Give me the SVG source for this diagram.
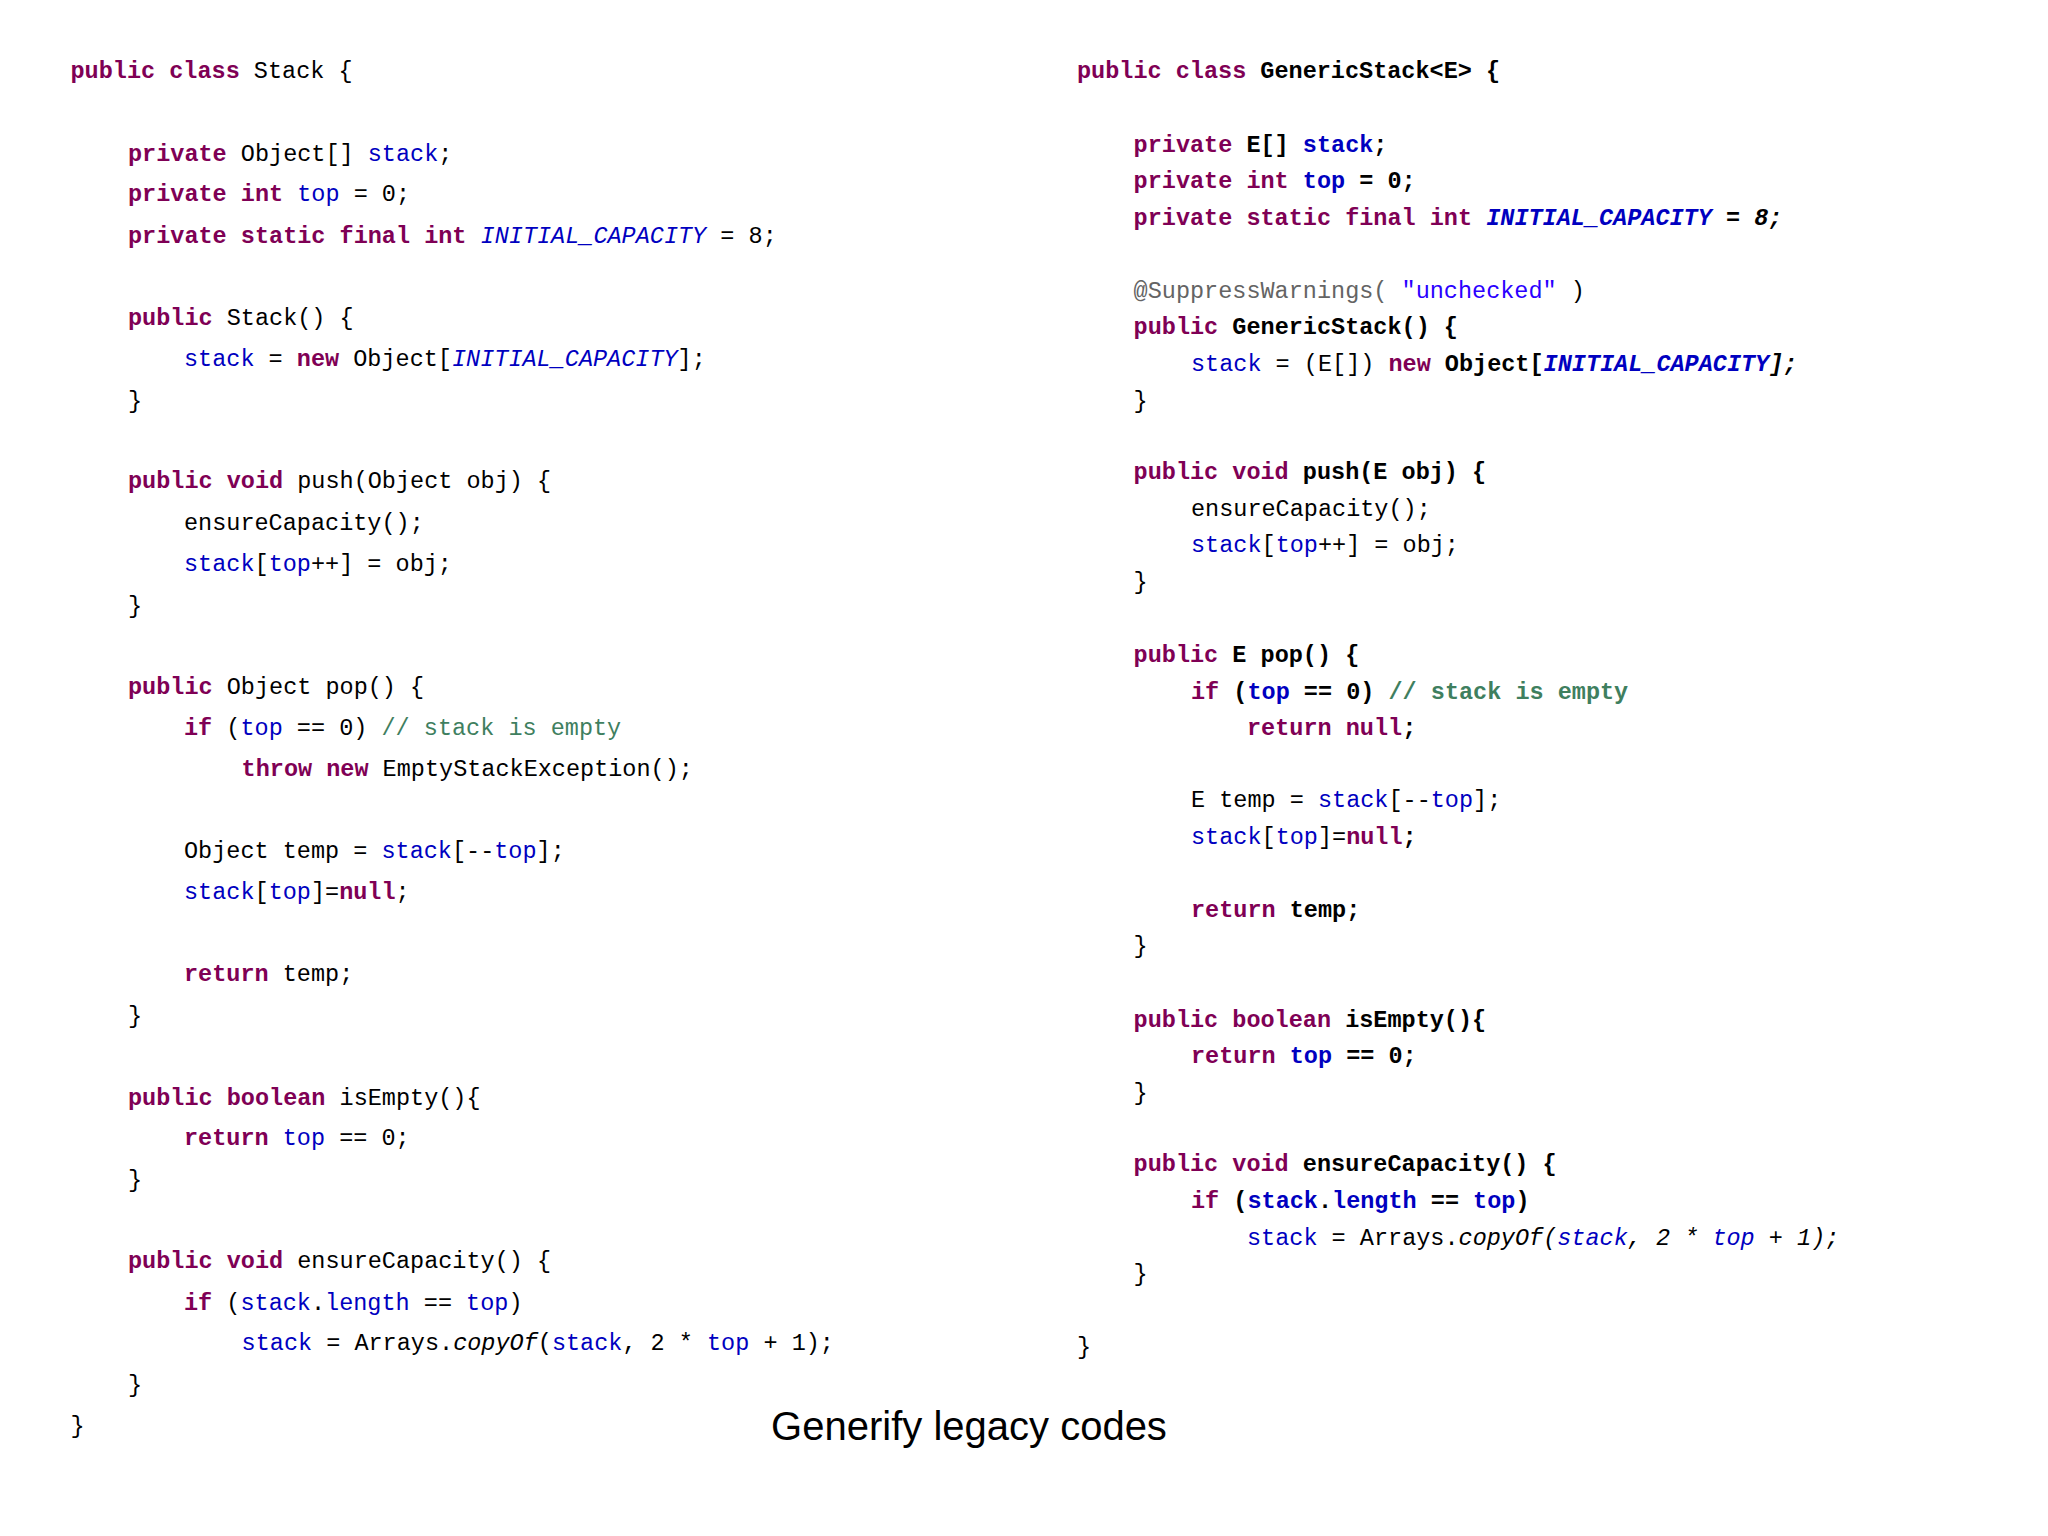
<svg xmlns="http://www.w3.org/2000/svg" width="2048" height="1536" viewBox="0 0 2048 1536">
<style>
text{font-family:"Liberation Mono","DejaVu Sans Mono",monospace;font-size:23.5px;fill:#000;white-space:pre}
.k{fill:#7F0055;font-weight:bold}
.f{fill:#0000C0}
.i{font-style:italic}
.c{fill:#3F7F5F}
.a{fill:#646464}
.s{fill:#2A00FF}
.b{font-weight:bold}
.t{font-family:"Liberation Sans",Arial,sans-serif;font-size:40px}
</style>
<rect width="2048" height="1536" fill="#fff"/>
<g id="legacy">
<text x="70.5" y="78.4"><tspan class="k">public class</tspan> Stack {</text>
<text x="128" y="160.6"><tspan class="k">private</tspan> Object[] <tspan class="f">stack</tspan>;</text>
<text x="128" y="201"><tspan class="k">private int</tspan> <tspan class="f">top</tspan> = 0;</text>
<text x="128" y="243"><tspan class="k">private static final int</tspan> <tspan class="f i">INITIAL_CAPACITY</tspan> = 8;</text>
<text x="128" y="325"><tspan class="k">public</tspan> Stack() {</text>
<text x="184" y="365.7"><tspan class="f">stack</tspan> = <tspan class="k">new</tspan> Object[<tspan class="f i">INITIAL_CAPACITY</tspan>];</text>
<text x="128" y="407.5">}</text>
<text x="128" y="488.4"><tspan class="k">public void</tspan> push(Object obj) {</text>
<text x="184" y="530">ensureCapacity();</text>
<text x="184" y="570.7"><tspan class="f">stack</tspan>[<tspan class="f">top</tspan>++] = obj;</text>
<text x="128" y="612.5">}</text>
<text x="128" y="693.5"><tspan class="k">public</tspan> Object pop() {</text>
<text x="184" y="735.3"><tspan class="k">if</tspan> (<tspan class="f">top</tspan> == 0) <tspan class="c">// stack is empty</tspan></text>
<text x="241.6" y="775.9"><tspan class="k">throw new</tspan> EmptyStackException();</text>
<text x="184" y="858">Object temp = <tspan class="f">stack</tspan>[--<tspan class="f">top</tspan>];</text>
<text x="184" y="898.5"><tspan class="f">stack</tspan>[<tspan class="f">top</tspan>]=<tspan class="k">null</tspan>;</text>
<text x="184" y="980.8"><tspan class="k">return</tspan> temp;</text>
<text x="128" y="1022.6">}</text>
<text x="128" y="1104.9"><tspan class="k">public boolean</tspan> isEmpty(){</text>
<text x="184" y="1145.3"><tspan class="k">return</tspan> <tspan class="f">top</tspan> == 0;</text>
<text x="128" y="1187.2">}</text>
<text x="128" y="1268"><tspan class="k">public void</tspan> ensureCapacity() {</text>
<text x="184" y="1309.9"><tspan class="k">if</tspan> (<tspan class="f">stack</tspan>.<tspan class="f">length</tspan> == <tspan class="f">top</tspan>)</text>
<text x="241.6" y="1350.4"><tspan class="f">stack</tspan> = Arrays.<tspan class="i">copyOf</tspan>(<tspan class="f">stack</tspan>, 2 * <tspan class="f">top</tspan> + 1);</text>
<text x="128" y="1392.2">}</text>
<text x="70.5" y="1432.7">}</text>
</g>
<g id="generic">
<text x="1077" y="78.4"><tspan class="k">public class</tspan> <tspan class="b">GenericStack&lt;E&gt; {</tspan></text>
<text x="1133.6" y="151.5" class="b"><tspan class="k">private</tspan> E[] <tspan class="f">stack</tspan>;</text>
<text x="1133.6" y="188" class="b"><tspan class="k">private int</tspan> <tspan class="f">top</tspan> = 0;</text>
<text x="1133.6" y="224.6" class="b"><tspan class="k">private static final int</tspan> <tspan class="f i">INITIAL_CAPACITY</tspan> <tspan class="i">= 8;</tspan></text>
<text x="1133.6" y="297.8"><tspan class="a">@SuppressWarnings(</tspan> <tspan class="s">"unchecked"</tspan> )</text>
<text x="1133.6" y="334.4" class="b"><tspan class="k">public</tspan> GenericStack() {</text>
<text x="1191" y="371"><tspan class="f">stack</tspan> = (E[]) <tspan class="k">new</tspan> <tspan class="b">Object[<tspan class="f i">INITIAL_CAPACITY</tspan><tspan class="i">];</tspan></tspan></text>
<text x="1133.6" y="407.5">}</text>
<text x="1133.6" y="479.3" class="b"><tspan class="k">public void</tspan> push(E obj) {</text>
<text x="1191" y="515.9">ensureCapacity();</text>
<text x="1191" y="552.4"><tspan class="f">stack</tspan>[<tspan class="f">top</tspan>++] = obj;</text>
<text x="1133.6" y="589">}</text>
<text x="1133.6" y="662.1" class="b"><tspan class="k">public</tspan> E pop() {</text>
<text x="1191" y="698.7" class="b"><tspan class="k">if</tspan> (<tspan class="f">top</tspan> == 0) <tspan class="c">// stack is empty</tspan></text>
<text x="1247" y="735.3" class="b"><tspan class="k">return null</tspan>;</text>
<text x="1191" y="807">E temp = <tspan class="f">stack</tspan>[--<tspan class="f">top</tspan>];</text>
<text x="1191" y="843.7"><tspan class="f">stack</tspan>[<tspan class="f">top</tspan>]=<tspan class="k">null</tspan><tspan class="b">;</tspan></text>
<text x="1191" y="916.8" class="b"><tspan class="k">return</tspan> temp;</text>
<text x="1133.6" y="953.4">}</text>
<text x="1133.6" y="1026.5" class="b"><tspan class="k">public boolean</tspan> isEmpty(){</text>
<text x="1191" y="1063" class="b"><tspan class="k">return</tspan> <tspan class="f">top</tspan> == 0;</text>
<text x="1133.6" y="1099.6">}</text>
<text x="1133.6" y="1171.4" class="b"><tspan class="k">public void</tspan> ensureCapacity() {</text>
<text x="1191" y="1208" class="b"><tspan class="k">if</tspan> (<tspan class="f">stack</tspan>.<tspan class="f">length</tspan> == <tspan class="f">top</tspan>)</text>
<text x="1247" y="1244.6"><tspan class="f">stack</tspan> = Arrays.<tspan class="i">copyOf(<tspan class="f">stack</tspan>, 2 * <tspan class="f">top</tspan> + 1);</tspan></text>
<text x="1133.6" y="1281.2">}</text>
<text x="1077" y="1354.3">}</text>
</g>
<text class="t" x="969" y="1440" text-anchor="middle">Generify legacy codes</text>
</svg>
